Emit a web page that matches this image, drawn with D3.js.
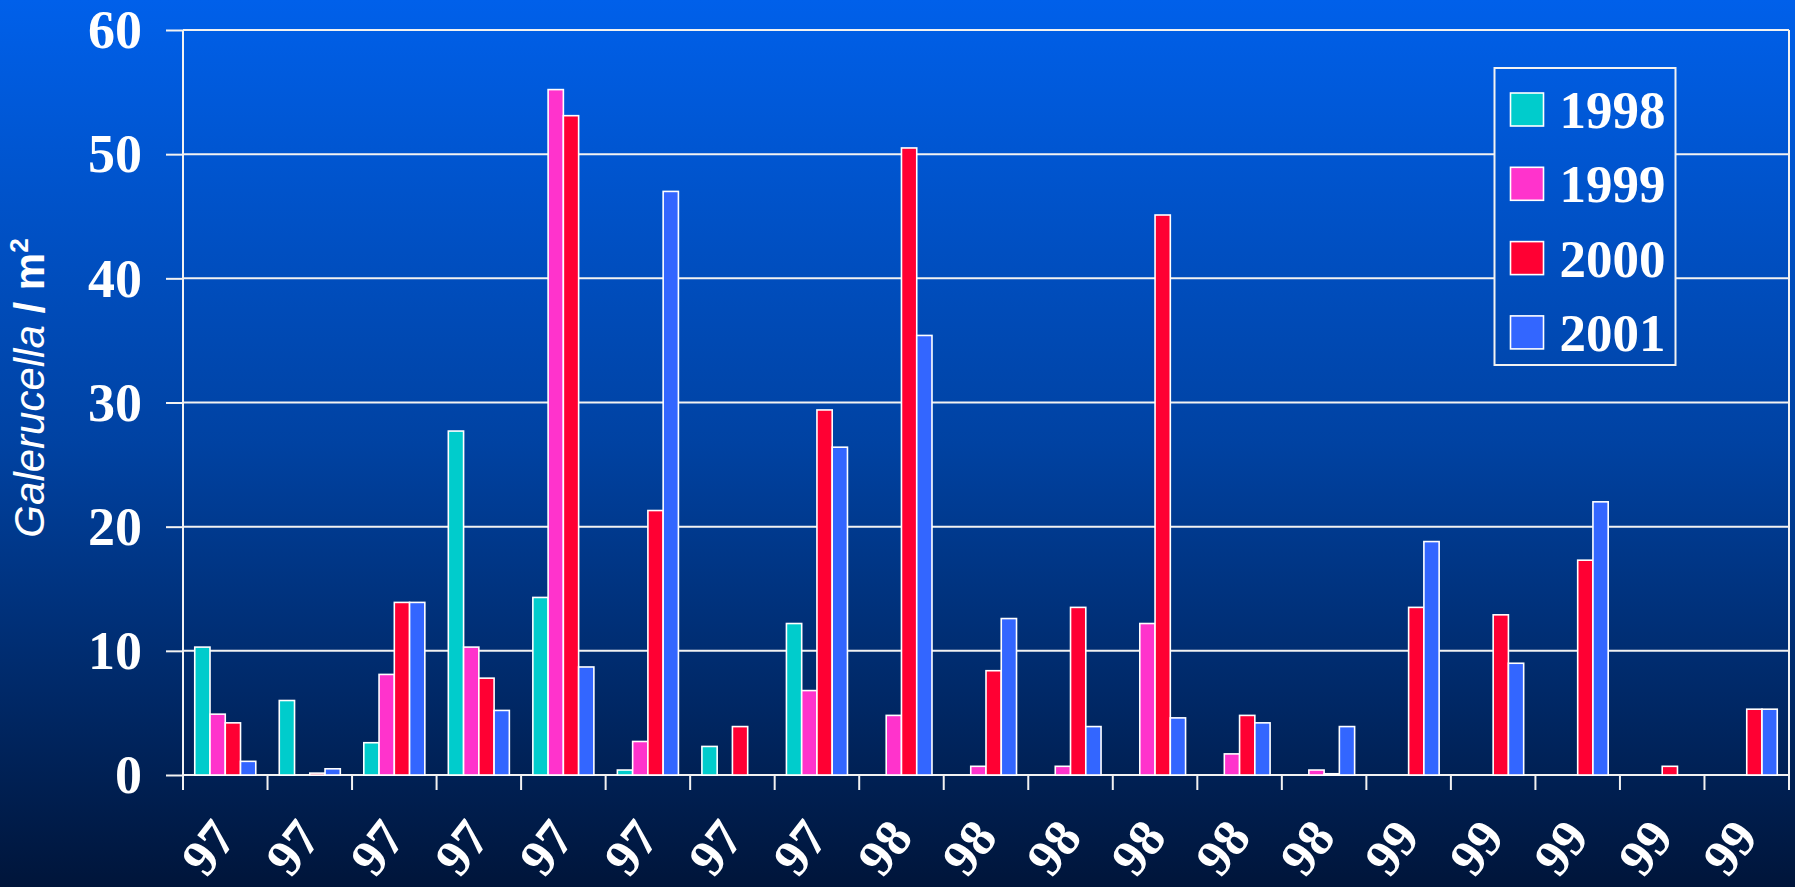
<!DOCTYPE html>
<html>
<head>
<meta charset="utf-8">
<script src="https://cdn.jsdelivr.net/npm/d3@7"></script>
<style>
  html, body { margin: 0; padding: 0; background: #001538; }
  svg { display: block; }
</style>
</head>
<body>
<svg id="chart" width="1795" height="887"></svg>
<script>
// Sampling dates (year of collection) along the x axis
const categories = ["97", "97", "97", "97", "97", "97", "97", "97",
                    "98", "98", "98", "98", "98", "98",
                    "99", "99", "99", "99", "99"];

// Galerucella density per m² for each survey year
const seriesNames = ["1998", "1999", "2000", "2001"];
const values1998 = [10.3, 6.0, 2.6, 27.7, 14.3, 0.4, 2.3, 12.2, 0, 0, 0, 0, 0, 0, 0, 0, 0, 0, 0];
const values1999 = [4.9, 0, 8.1, 10.3, 55.2, 2.7, 0, 6.8, 4.8, 0.7, 0.7, 12.2, 1.7, 0.4, 0, 0, 0, 0, 0];
const values2000 = [4.2, 0.15, 13.9, 7.8, 53.1, 21.3, 3.9, 29.4, 50.5, 8.4, 13.5, 45.1, 4.8, 0.1, 13.5, 12.9, 17.3, 0.7, 5.3];
const values2001 = [1.1, 0.5, 13.9, 5.2, 8.7, 47.0, 0, 26.4, 35.4, 12.6, 3.9, 4.6, 4.2, 3.9, 18.8, 9.0, 22.0, 0, 5.3];
const yTicks = [0, 10, 20, 30, 40, 50, 60];

const seriesValues = [values1998, values1999, values2000, values2001];
const colors = ["#00CCCC", "#FF33CC", "#FF0033", "#3366FF"];

const svg = d3.select("#chart");
const W = 1795, H = 887;
const plot = { left: 183, right: 1789, top: 30, bottom: 775 };

// Background gradient (also reused for the legend panel)
const defs = svg.append("defs");
const grad = defs.append("linearGradient")
  .attr("id", "bg").attr("gradientUnits", "userSpaceOnUse")
  .attr("x1", 0).attr("y1", 0).attr("x2", 0).attr("y2", H);
grad.append("stop").attr("offset", "0%").attr("stop-color", "#0060EA");
grad.append("stop").attr("offset", "50%").attr("stop-color", "#0042A2");
grad.append("stop").attr("offset", "100%").attr("stop-color", "#00153A");

svg.append("rect").attr("width", W).attr("height", H).attr("fill", "url(#bg)");

const y = d3.scaleLinear().domain([0, 60]).range([plot.bottom, plot.top]);
const x0 = d3.scaleBand().domain(d3.range(categories.length))
  .range([plot.left, plot.right]).paddingInner(0).paddingOuter(0);
const bw = x0.bandwidth();
const x1 = d3.scaleBand().domain(seriesNames)
  .range([bw * 0.139, bw * 0.861]).paddingInner(0).paddingOuter(0);

// Horizontal gridlines
svg.append("g").selectAll("line").data(yTicks).join("line")
  .attr("x1", plot.left).attr("x2", plot.right)
  .attr("y1", d => y(d)).attr("y2", d => y(d))
  .attr("stroke", "#F2F2F2").attr("stroke-width", 2);

// Right border of the plot area
svg.append("line")
  .attr("x1", plot.right).attr("x2", plot.right)
  .attr("y1", plot.top).attr("y2", plot.bottom + 15)
  .attr("stroke", "#F2F2F2").attr("stroke-width", 2);

// Bars
const groups = svg.append("g").selectAll("g")
  .data(categories.map((c, i) => i)).join("g")
  .attr("transform", i => `translate(${x0(i)},0)`);

groups.selectAll("rect")
  .data(i => seriesNames.map((s, k) => ({ s, k, v: seriesValues[k][i] })).filter(d => d.v > 0))
  .join("rect")
  .attr("x", d => x1(d.s))
  .attr("width", x1.bandwidth())
  .attr("y", d => y(d.v))
  .attr("height", d => y(0) - y(d.v))
  .attr("fill", d => colors[d.k])
  .attr("stroke", "#FFFFFF").attr("stroke-width", 1.6);

// Y axis
const yAxis = d3.axisLeft(y).tickValues(yTicks).tickSizeInner(17).tickSizeOuter(0).tickPadding(24);
const yg = svg.append("g").attr("transform", `translate(${plot.left},0)`).call(yAxis);
yg.select(".domain").attr("stroke", "#F2F2F2").attr("stroke-width", 2)
  .attr("d", `M0,${plot.top}V${plot.bottom + 15}`);
yg.selectAll(".tick line").attr("stroke", "#F2F2F2").attr("stroke-width", 2);
yg.selectAll(".tick text")
  .attr("fill", "#FFFFFF")
  .attr("font-family", "'Liberation Serif', 'Times New Roman', serif")
  .attr("font-weight", "bold").attr("font-size", 54)
  .attr("dy", "0.33em");

// X axis: ticks on category boundaries, rotated labels at centres
const xg = svg.append("g");
xg.selectAll("line").data(d3.range(categories.length + 1)).join("line")
  .attr("x1", i => i < categories.length ? x0(i) : plot.right)
  .attr("x2", i => i < categories.length ? x0(i) : plot.right)
  .attr("y1", plot.bottom).attr("y2", plot.bottom + 15)
  .attr("stroke", "#F2F2F2").attr("stroke-width", 2);

xg.selectAll("text").data(categories).join("text")
  .attr("transform", (d, i) => `translate(${x0(i) + bw / 2 + 13},838) rotate(-52)`)
  .attr("text-anchor", "end")
  .attr("fill", "#FFFFFF")
  .attr("font-family", "'Liberation Serif', 'Times New Roman', serif")
  .attr("font-weight", "bold").attr("font-size", 52)
  .text(d => d);

// Y axis title
const title = svg.append("text")
  .attr("transform", `translate(44,388) rotate(-90)`)
  .attr("text-anchor", "middle")
  .attr("fill", "#FFFFFF")
  .attr("font-family", "'Liberation Sans', Arial, sans-serif")
  .attr("font-size", 42);
title.append("tspan").attr("font-style", "italic").text("Galerucella");
title.append("tspan").attr("font-weight", "bold").text(" / m");
title.append("tspan").attr("font-weight", "bold").attr("font-size", 26).attr("dy", -16).text("2");

// Legend
const legend = svg.append("g");
legend.append("rect")
  .attr("x", 1494.5).attr("y", 68).attr("width", 181).attr("height", 297)
  .attr("fill", "url(#bg)").attr("stroke", "#F2F2F2").attr("stroke-width", 2);
const items = legend.selectAll("g.item").data(seriesNames).join("g")
  .attr("class", "item")
  .attr("transform", (d, i) => `translate(1510.5,${93 + i * 74.3})`);
items.append("rect")
  .attr("width", 33).attr("height", 33)
  .attr("fill", (d, i) => colors[i])
  .attr("stroke", "#FFFFFF").attr("stroke-width", 1.6);
items.append("text")
  .attr("x", 49).attr("y", 35)
  .attr("fill", "#FFFFFF")
  .attr("font-family", "'Liberation Serif', 'Times New Roman', serif")
  .attr("font-weight", "bold").attr("font-size", 53)
  .text(d => d);
</script>
</body>
</html>
